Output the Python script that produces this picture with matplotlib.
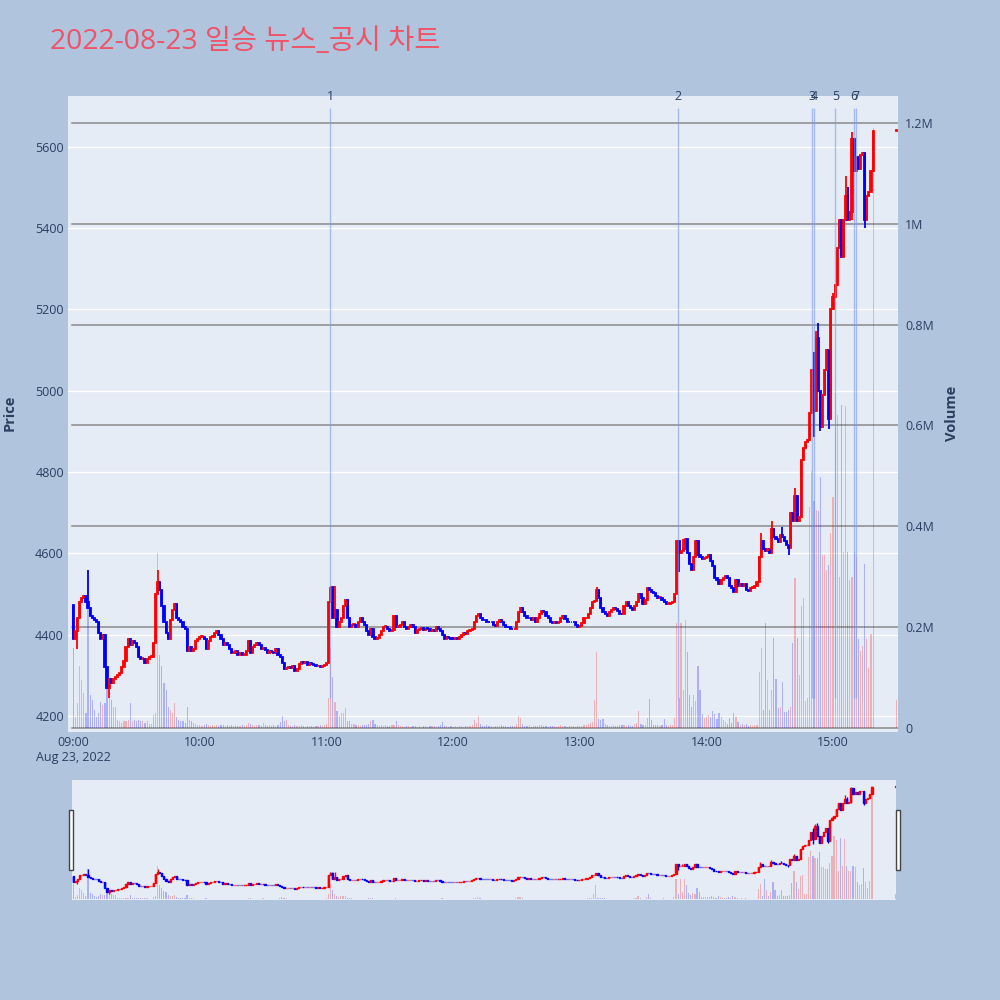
import numpy as np
import matplotlib
matplotlib.use("Agg")
import matplotlib.pyplot as plt
from matplotlib.patches import Rectangle

plt.rcParams['font.family'] = ['Open Sans', 'Noto Sans CJK KR', 'DejaVu Sans']

# ---------------- data ----------------
title = "2022-08-23 일승 뉴스_공시 차트"
session_date = "Aug 23, 2022"

first_open = 4472
# 1-minute closes from 09:00 (index 0) to 15:19 (index 379)
closes = [
    4390, 4410, 4440, 4480, 4490, 4495, 4480, 4465, 4445, 4440,
    4435, 4430, 4405, 4390, 4400, 4320, 4270, 4290, 4280, 4290,
    4295, 4300, 4305, 4320, 4335, 4370, 4390, 4375, 4385, 4380,
    4370, 4345, 4340, 4340, 4330, 4340, 4345, 4345, 4380, 4500,
    4530, 4510, 4470, 4430, 4405, 4390, 4435, 4460, 4475, 4440,
    4435, 4430, 4420, 4415, 4360, 4370, 4360, 4365, 4385, 4390,
    4395, 4395, 4390, 4365, 4385, 4395, 4395, 4405, 4410, 4400,
    4390, 4375, 4380, 4375, 4365, 4355, 4355, 4360, 4350, 4355,
    4350, 4350, 4360, 4385, 4355, 4370, 4375, 4380, 4375, 4365,
    4368, 4362, 4355, 4360, 4358, 4355, 4365, 4350, 4345, 4330,
    4315, 4318, 4320, 4318, 4322, 4310, 4315, 4328, 4332, 4330,
    4333, 4325, 4330, 4327, 4325, 4322, 4324, 4320, 4322, 4325,
    4330, 4480, 4515, 4440, 4460, 4420, 4430, 4440, 4470, 4485,
    4440, 4420, 4425, 4425, 4420, 4430, 4440, 4432, 4425, 4410,
    4400, 4415, 4395, 4390, 4392, 4398, 4410, 4420, 4420, 4415,
    4410, 4412, 4445, 4420, 4420, 4425, 4430, 4420, 4415, 4420,
    4425, 4418, 4405, 4412, 4415, 4416, 4412, 4415, 4414, 4410,
    4412, 4410, 4420, 4415, 4408, 4400, 4390, 4395, 4392, 4390,
    4389, 4392, 4390, 4395, 4400, 4405, 4402, 4410, 4412, 4415,
    4430, 4445, 4450, 4440, 4437, 4435, 4432, 4430, 4432, 4425,
    4422, 4430, 4435, 4432, 4425, 4420, 4418, 4415, 4413, 4415,
    4430, 4455, 4465, 4455, 4445, 4440, 4442, 4435, 4440, 4430,
    4440, 4450, 4458, 4455, 4445, 4440, 4432, 4428, 4430, 4429,
    4430, 4440, 4445, 4438, 4432, 4430, 4432, 4430, 4425, 4420,
    4422, 4428, 4440, 4440, 4450, 4465, 4480, 4482, 4510, 4490,
    4465, 4455, 4450, 4445, 4455, 4460, 4465, 4462, 4458, 4452,
    4450, 4470, 4480, 4470, 4465, 4460, 4470, 4480, 4500, 4490,
    4475, 4485, 4515, 4510, 4505, 4502, 4495, 4490, 4490, 4485,
    4480, 4475, 4475, 4478, 4480, 4500, 4630, 4600, 4605, 4610,
    4635, 4600, 4575, 4560, 4590, 4630, 4595, 4590, 4587, 4588,
    4590, 4595, 4580, 4570, 4540, 4535, 4525, 4535, 4540, 4545,
    4540, 4520, 4515, 4505, 4535, 4520, 4525, 4520, 4525, 4510,
    4508, 4515, 4515, 4520, 4530, 4590, 4630, 4610, 4605, 4610,
    4600, 4660, 4640, 4635, 4628, 4645, 4640, 4630, 4620, 4612,
    4700, 4680, 4740, 4680, 4690, 4830, 4860, 4875, 4880, 4945,
    5050, 4950, 5130, 5000, 4910, 4990, 5050, 5100, 4930, 5200,
    5230, 5260, 5350, 5420, 5330, 5420, 5480, 5420, 5440, 5620,
    5540, 5575, 5545, 5580, 5585, 5420, 5480, 5490, 5540, 5640,
]
auction_minute = 390          # 15:30 closing auction
auction_close = 5640

# 1-minute volumes in thousands of shares
volumes_k = [
    158, 22, 49, 122, 95, 69, 29, 313, 66, 56,
    36, 22, 29, 52, 46, 49, 89, 62, 56, 42,
    42, 16, 13, 10, 13, 13, 16, 49, 13, 16,
    13, 16, 13, 13, 10, 13, 7, 7, 26, 29,
    348, 145, 122, 89, 76, 42, 36, 29, 49, 22,
    16, 13, 13, 10, 42, 16, 13, 10, 7, 6,
    5, 4, 6, 8, 5, 4, 6, 3, 5, 4,
    6, 5, 4, 5, 3, 6, 4, 5, 3, 4,
    5, 4, 6, 10, 8, 5, 4, 6, 5, 4,
    10, 5, 4, 6, 3, 5, 4, 6, 12, 23,
    13, 15, 5, 3, 4, 5, 3, 4, 5, 3,
    2, 3, 4, 3, 2, 3, 4, 5, 4, 6,
    8, 60, 158, 102, 52, 33, 23, 29, 29, 39,
    13, 13, 8, 7, 5, 6, 4, 5, 6, 5,
    8, 13, 15, 7, 5, 4, 6, 4, 5, 3,
    4, 5, 6, 13, 5, 4, 3, 2, 3, 4,
    2, 3, 4, 2, 3, 2, 4, 3, 2, 3,
    4, 3, 2, 3, 5, 11, 4, 3, 2, 3,
    2, 3, 2, 4, 3, 2, 3, 4, 3, 6,
    16, 10, 23, 8, 4, 3, 5, 4, 3, 2,
    3, 4, 3, 5, 4, 3, 2, 3, 4, 3,
    8, 23, 20, 8, 4, 3, 5, 2, 3, 4,
    3, 5, 6, 4, 3, 2, 3, 4, 3, 2,
    4, 5, 3, 4, 2, 3, 4, 3, 2, 3,
    4, 3, 5, 6, 8, 10, 12, 56, 151, 18,
    15, 18, 8, 5, 4, 3, 5, 4, 3, 5,
    5, 5, 4, 5, 3, 4, 8, 10, 34, 8,
    5, 6, 20, 57, 16, 6, 5, 5, 4, 6,
    18, 6, 4, 5, 6, 20, 208, 60, 208, 76,
    214, 151, 66, 42, 66, 53, 123, 76, 27, 20,
    22, 25, 22, 33, 27, 18, 30, 22, 15, 12,
    8, 20, 10, 30, 22, 12, 5, 8, 5, 8,
    4, 5, 3, 5, 6, 112, 158, 36, 208, 95,
    36, 75, 178, 98, 39, 42, 92, 32, 32, 36,
    42, 168, 297, 178, 105, 242, 258, 53, 60, 439,
    510, 450, 432, 430, 498, 343, 343, 313, 323, 386,
    459, 664, 620, 300, 641, 350, 638, 349, 294, 300,
    350, 340, 176, 153, 163, 326, 176, 118, 187, 1190,
]
auction_volume_k = 55

# wick extremes that go beyond the candle bodies (minute index -> price)
wick_high = {7: 4560, 40: 4560, 122: 4520, 123: 4520, 124: 4520, 248: 4517,
             289: 4635, 326: 4650, 331: 4680, 336: 4666, 342: 4761,
             351: 5096, 352: 5146, 353: 5166, 360: 5240, 366: 5527,
             367: 5502, 369: 5637}
wick_low = {2: 4365, 17: 4245, 287: 4555, 339: 4596, 351: 4885, 354: 4900,
            358: 4906, 369: 5420, 375: 5400}

# news / disclosure markers (minutes after 09:00)
news_minutes = [121.8, 286.7, 350.0, 351.1, 361.1, 370.1, 370.8]
news_labels = ["1", "2", "3", "4", "5", "6", "7"]

xtick_minutes = [0, 60, 120, 180, 240, 300, 360]
xtick_labels = ["09:00\n" + session_date, "10:00", "11:00", "12:00", "13:00", "14:00", "15:00"]
price_ticks = [4200, 4400, 4600, 4800, 5000, 5200, 5400, 5600]
vol_ticks = [0, 0.2, 0.4, 0.6, 0.8, 1.0, 1.2]
vol_tick_labels = ["0", "0.2M", "0.4M", "0.6M", "0.8M", "1M", "1.2M"]

# ---------------- derived ----------------
t = np.r_[np.arange(len(closes)), auction_minute].astype(float)
c = np.array(closes + [auction_close], dtype=float)
o = np.r_[first_open, c[:-1]]
hi = np.maximum(o, c)
lo = np.minimum(o, c)
for k, v in wick_high.items():
    hi[k] = max(hi[k], v)
for k, v in wick_low.items():
    lo[k] = min(lo[k], v)
vol = np.array(volumes_k + [auction_volume_k], dtype=float) / 1000.0
up = c >= o

RED = "#FF0000"
BLUE = "#0000FF"
cols = np.where(up, RED, BLUE)

TXT = "#2A3F5F"
PAPER = "#B0C4DE"
PLOT = "#E5ECF6"

PRICE_LIM = (4160.6, 5725)
VOL_LIM = (-0.008, 1.2536)

fig = plt.figure(figsize=(10, 10), dpi=100, facecolor=PAPER)


def draw_set(rect, xlim, main=True):
    ax_bg = fig.add_axes(rect)
    ax_bg.set_facecolor(PLOT)
    ax_bg.set_xlim(*xlim)
    ax_bg.set_ylim(*PRICE_LIM)
    for s in ax_bg.spines.values():
        s.set_visible(False)

    ax_v = fig.add_axes(rect, sharex=ax_bg)
    ax_v.patch.set_visible(False)
    ax_v.set_ylim(*VOL_LIM)
    for s in ax_v.spines.values():
        s.set_visible(False)
    ax_v.tick_params(axis="x", bottom=False, labelbottom=False, top=False, labeltop=False)

    ax_p = fig.add_axes(rect, sharex=ax_bg)
    ax_p.patch.set_visible(False)
    ax_p.set_ylim(*PRICE_LIM)
    for s in ax_p.spines.values():
        s.set_visible(False)
    ax_p.tick_params(axis="x", bottom=False, labelbottom=False, top=False, labeltop=False)
    ax_p.tick_params(axis="y", left=False, labelleft=False, right=False, labelright=False)

    # volume bars
    ax_v.bar(t[up], vol[up], width=0.55, color=RED, alpha=0.25, linewidth=0)
    ax_v.bar(t[~up], vol[~up], width=0.55, color=BLUE, alpha=0.25, linewidth=0)

    # candles
    lw = 1.3 if main else 1.0
    ax_p.vlines(t, lo, hi, colors=cols, linewidth=lw)
    body_h = np.maximum(np.abs(c - o), 2.0)
    ax_p.bar(t, body_h, bottom=np.minimum(o, c), width=0.55, color=cols,
             edgecolor=cols, linewidth=lw)
    return ax_bg, ax_v, ax_p


# ---------------- main chart ----------------
main_rect = [0.068, 0.268, 0.830, 0.636]
ax_bg, ax_v, ax_p = draw_set(main_rect, (-2.5, 390.8))

ax_bg.set_yticks(price_ticks)
ax_bg.yaxis.grid(True, color="white", linewidth=1.0)
ax_bg.set_axisbelow(True)
ax_bg.tick_params(axis="y", length=0, pad=3, labelsize=9, labelcolor=TXT)
ax_bg.set_xticks(xtick_minutes)
ax_bg.set_xticklabels(xtick_labels)
ax_bg.tick_params(axis="x", length=0, pad=3, labelsize=9, labelcolor=TXT)

ax_v.set_yticks(vol_ticks)
ax_v.set_yticklabels(vol_tick_labels)
ax_v.yaxis.tick_right()
ax_v.tick_params(axis="y", length=0, pad=5, labelsize=9, labelcolor=TXT)
for yv in vol_ticks:
    ax_v.axhline(yv, xmin=0.005, xmax=1.0, color="#8a8a8a", linewidth=1.1, zorder=0)

# news markers
news_lo = 4244
news_hi = 5696
for m, lab in zip(news_minutes, news_labels):
    ax_p.vlines(m, news_lo, news_hi, colors="#7D9AF0", linewidth=1.0, alpha=0.6, zorder=5)
    ax_p.text(m, 5723, lab, ha="center", va="center", fontsize=9, color=TXT, clip_on=False)

fig.text(0.010, 0.587, "Price", rotation=90, ha="center", va="center",
         fontsize=10.5, fontweight="bold", color=TXT)
fig.text(0.952, 0.587, "Volume", rotation=90, ha="center", va="center",
         fontsize=10.5, fontweight="bold", color=TXT)

fig.text(0.050, 0.958, title, ha="left", va="center", fontsize=20.4,
         color="#EE5468", family=["Open Sans", "Noto Sans CJK KR"])

# ---------------- range slider ----------------
sl_rect = [0.072, 0.100, 0.824, 0.120]
s_bg, s_v, s_p = draw_set(sl_rect, (-0.6, 390.4), main=False)
for a in (s_bg, s_v, s_p):
    a.tick_params(axis="both", left=False, labelleft=False, right=False, labelright=False,
                  bottom=False, labelbottom=False)

for hx in (0.0685, 0.8955):
    fig.patches.append(Rectangle((hx, 0.130), 0.0045, 0.060, transform=fig.transFigure,
                                 facecolor="white", edgecolor="#444444", linewidth=1.0))

fig.savefig("out.png", dpi=100, facecolor=PAPER)
